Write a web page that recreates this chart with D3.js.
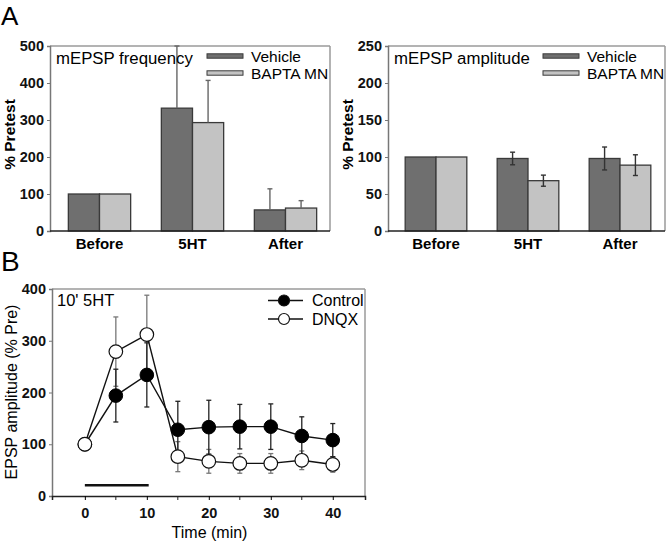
<!DOCTYPE html>
<html><head><meta charset="utf-8">
<script src="https://cdn.jsdelivr.net/npm/d3@7"></script>
<style>body{margin:0;background:#fff}svg{display:block;font-family:"Liberation Sans",Arial,sans-serif}</style>
</head><body>
<script>
// ---------- data ----------
const categories = ["Before", "5HT", "After"];
const seriesNames = ["Vehicle", "BAPTA MN"];
const freqVehicle = [100, 332, 57];
const freqBapta = [100, 293, 62];
const freqVehicleErr = [0, 168, 57];
const freqBaptaErr = [0, 114, 20];
const ampVehicle = [100, 98, 98];
const ampBapta = [100, 68, 89];
const ampVehicleErr = [0, 8.5, 15.5];
const ampBaptaErr = [0, 7.5, 14];
const freqTicks = [0, 100, 200, 300, 400, 500];
const ampTicks = [0, 50, 100, 150, 200, 250];

const timeMin = [0, 5, 10, 15, 20, 25, 30, 35, 40];
const controlVals = [100, 194, 234, 128, 133, 134, 134, 116, 108];
const controlErr = [0, 51, 62, 55, 52, 43, 44, 37, 32];
const dnqxVals = [100, 279, 312, 76, 67, 63, 63, 69, 61];
const dnqxErr = [0, 67, 76, 29, 23, 19, 19, 18, 15];
const timeTicks = [0, 10, 20, 30, 40];
const timeMinorTicks = [5, 15, 25, 35];
const bTicks = [0, 100, 200, 300, 400];
const stimBar = [0, 10.3];
const stimLevel = 21;

const W = 670, H = 544;
const svg = d3.select("body").append("svg").attr("width", W).attr("height", H);

const colV = "#6f6f6f", colB = "#c3c3c3", edge = "#3a3a3a";

// panel letters
svg.append("text").attr("x", 1).attr("y", 25).attr("font-size", 26).text("A");
svg.append("text").attr("x", 1).attr("y", 271).attr("font-size", 28).text("B");

function styleTicks(sel) {
  sel.selectAll("text").attr("font-size", 14.5).attr("font-weight", "bold").attr("fill", "#111").attr("font-family", "Liberation Sans, Arial");
}

function barPanel(opts) {
  const {x0, x1, yTop, yBot, xr, yMax, ticks, vV, vB, eV, eB, twoSided, title, errCol} = opts;
  const g = svg.append("g");
  const y = d3.scaleLinear().domain([0, yMax]).range([yBot, yTop]);
  const xc = d3.scalePoint().domain(categories).range(xr).padding(0.5);
  const bw = xc.step() * 0.335;
  // frame
  g.append("line").attr("x1", x0).attr("x2", x1).attr("y1", yTop).attr("y2", yTop).attr("stroke", "#9a9a9a").attr("stroke-width", 1.5);
  g.append("line").attr("x1", x1).attr("x2", x1).attr("y1", yTop).attr("y2", yBot).attr("stroke", "#9a9a9a").attr("stroke-width", 1.5);
  // y axis
  const ya = d3.axisLeft(y).tickValues(ticks).tickSize(3).tickPadding(3);
  const yg = g.append("g").attr("transform", `translate(${x0},0)`).call(ya);
  yg.select(".domain").attr("stroke", "#777").attr("stroke-width", 1.5);
  yg.selectAll(".tick line").attr("stroke", "#777");
  styleTicks(yg);
  // bars
  const data = categories.map((c, i) => ({c, vals: [vV[i], vB[i]], errs: [eV[i], eB[i]]}));
  data.forEach(d => {
    d.vals.forEach((v, k) => {
      const bx = xc(d.c) + (k === 0 ? -bw : 0);
      g.append("rect").attr("x", bx).attr("y", y(v)).attr("width", bw).attr("height", y(0) - y(v))
        .attr("fill", k === 0 ? colV : colB).attr("stroke", edge).attr("stroke-width", 1.3);
    });
  });
  // errors
  data.forEach(d => {
    d.vals.forEach((v, k) => {
      const e = d.errs[k];
      if (!e) return;
      const cx = xc(d.c) + (k === 0 ? -bw / 2 : bw / 2);
      const lo = twoSided ? v - e : v;
      g.append("line").attr("x1", cx).attr("x2", cx).attr("y1", y(lo)).attr("y2", y(v + e)).attr("stroke", errCol).attr("stroke-width", 1.4);
      g.append("line").attr("x1", cx - 2.5).attr("x2", cx + 2.5).attr("y1", y(v + e)).attr("y2", y(v + e)).attr("stroke", errCol).attr("stroke-width", 1.4);
      if (twoSided) g.append("line").attr("x1", cx - 2.5).attr("x2", cx + 2.5).attr("y1", y(lo)).attr("y2", y(lo)).attr("stroke", errCol).attr("stroke-width", 1.4);
    });
  });
  // bottom axis
  g.append("line").attr("x1", x0).attr("x2", x1).attr("y1", yBot).attr("y2", yBot).attr("stroke", "#222").attr("stroke-width", 1.5);
  categories.forEach(c => {
    g.append("text").attr("x", xc(c)).attr("y", yBot + 17.5).attr("text-anchor", "middle").attr("font-size", 15).attr("font-weight", "bold").text(c);
  });
  // y label
  g.append("text").attr("transform", `translate(${x0 - 35},${(yTop + yBot) / 2 - 4}) rotate(-90)`).attr("text-anchor", "middle")
    .attr("font-size", 15.5).attr("font-weight", "bold").text("% Pretest");
  // title
  g.append("text").attr("x", x0 + 6).attr("y", yTop + 18).attr("font-size", 16.8).text(title);
  // legend
  seriesNames.forEach((s, k) => {
    const ly = yTop + 10 + k * 17;
    g.append("rect").attr("x", opts.legX).attr("y", ly - 2.2).attr("width", 36).attr("height", 4.4)
      .attr("fill", k === 0 ? colV : colB).attr("stroke", edge).attr("stroke-width", 1);
    g.append("text").attr("x", opts.legX + 44).attr("y", ly + 6).attr("font-size", 15.5).text(s);
  });
}

barPanel({x0: 50, x1: 330, yTop: 46, yBot: 231, xr: [53, 332], yMax: 500, ticks: freqTicks,
  vV: freqVehicle, vB: freqBapta, eV: freqVehicleErr, eB: freqBaptaErr, twoSided: false,
  title: "mEPSP frequency", errCol: "#666", legX: 207});
barPanel({x0: 388, x1: 665, yTop: 46, yBot: 231, xr: [390, 666], yMax: 250, ticks: ampTicks,
  vV: ampVehicle, vB: ampBapta, eV: ampVehicleErr, eB: ampBaptaErr, twoSided: true,
  title: "mEPSP amplitude", errCol: "#333", legX: 543});

// ---------- panel B ----------
(function () {
  const x0 = 52, x1 = 365, yTop = 289, yBot = 496;
  const x = d3.scaleLinear().domain([-5.3, 45.2]).range([x0, x1]);
  const y = d3.scaleLinear().domain([0, 400]).range([yBot, yTop]);
  const g = svg.append("g");
  g.append("line").attr("x1", x0).attr("x2", x1).attr("y1", yTop).attr("y2", yTop).attr("stroke", "#9a9a9a").attr("stroke-width", 1.5);
  g.append("line").attr("x1", x1).attr("x2", x1).attr("y1", yTop).attr("y2", yBot).attr("stroke", "#9a9a9a").attr("stroke-width", 1.5);

  const ya = d3.axisLeft(y).tickValues(bTicks).tickSize(3).tickPadding(3);
  const yg = g.append("g").attr("transform", `translate(${x0},0)`).call(ya);
  yg.select(".domain").attr("stroke", "#777").attr("stroke-width", 1.5);
  yg.selectAll(".tick line").attr("stroke", "#777");
  styleTicks(yg);

  const xa = d3.axisBottom(x).tickValues(timeTicks).tickSize(4).tickPadding(8);
  const xg = g.append("g").attr("transform", `translate(0,${yBot})`).call(xa);
  xg.select(".domain").attr("stroke", "#222").attr("stroke-width", 1.5);
  styleTicks(xg);
  timeMinorTicks.forEach(t => g.append("line").attr("x1", x(t)).attr("x2", x(t)).attr("y1", yBot).attr("y2", yBot + 4).attr("stroke", "#222"));

  g.append("text").attr("x", (x0 + x1) / 2 + 1).attr("y", 538).attr("text-anchor", "middle").attr("font-size", 16).text("Time (min)");
  g.append("text").attr("transform", `translate(17,${392}) rotate(-90)`).attr("text-anchor", "middle").attr("font-size", 16).text("EPSP amplitude (% Pre)");
  g.append("text").attr("x", x0 + 5).attr("y", yTop + 17).attr("font-size", 16.5).text("10' 5HT");

  // stimulus bar
  g.append("line").attr("x1", x(stimBar[0])).attr("x2", x(stimBar[1])).attr("y1", y(stimLevel)).attr("y2", y(stimLevel)).attr("stroke", "#111").attr("stroke-width", 2.5);

  const ctrl = timeMin.map((t, i) => ({t, v: controlVals[i], e: controlErr[i]}));
  const dnqx = timeMin.map((t, i) => ({t, v: dnqxVals[i], e: dnqxErr[i]}));
  const line = d3.line().x(d => x(d.t)).y(d => y(d.v));

  function errs(data, col) {
    data.forEach(d => {
      if (!d.e) return;
      g.append("line").attr("x1", x(d.t)).attr("x2", x(d.t)).attr("y1", y(d.v - d.e)).attr("y2", y(d.v + d.e)).attr("stroke", col).attr("stroke-width", 1.3);
      [d.v - d.e, d.v + d.e].forEach(vv => g.append("line").attr("x1", x(d.t) - 2.5).attr("x2", x(d.t) + 2.5).attr("y1", y(vv)).attr("y2", y(vv)).attr("stroke", col).attr("stroke-width", 1.3));
    });
  }
  errs(dnqx, "#777");
  errs(ctrl, "#222");
  g.append("path").datum(ctrl).attr("d", line).attr("fill", "none").attr("stroke", "#111").attr("stroke-width", 1.4);
  g.append("path").datum(dnqx).attr("d", line).attr("fill", "none").attr("stroke", "#111").attr("stroke-width", 1.4);
  g.selectAll(".cpt").data(ctrl).enter().append("circle").attr("cx", d => x(d.t)).attr("cy", d => y(d.v)).attr("r", 6.8).attr("fill", "#000").attr("stroke", "#000");
  g.selectAll(".dpt").data(dnqx).enter().append("circle").attr("cx", d => x(d.t)).attr("cy", d => y(d.v)).attr("r", 6.8).attr("fill", "#fff").attr("stroke", "#111").attr("stroke-width", 1.2);

  // legend
  [["Control", "#000"], ["DNQX", "#fff"]].forEach(([name, fill], k) => {
    const ly = 300.5 + k * 18.5;
    g.append("line").attr("x1", 268).attr("x2", 303).attr("y1", ly).attr("y2", ly).attr("stroke", "#111").attr("stroke-width", 1.4);
    g.append("circle").attr("cx", 284).attr("cy", ly).attr("r", 5.5).attr("fill", fill).attr("stroke", "#111").attr("stroke-width", 1.2);
    g.append("text").attr("x", 312).attr("y", ly + 5.5).attr("font-size", 16).text(name);
  });
})();
</script>
</body></html>
